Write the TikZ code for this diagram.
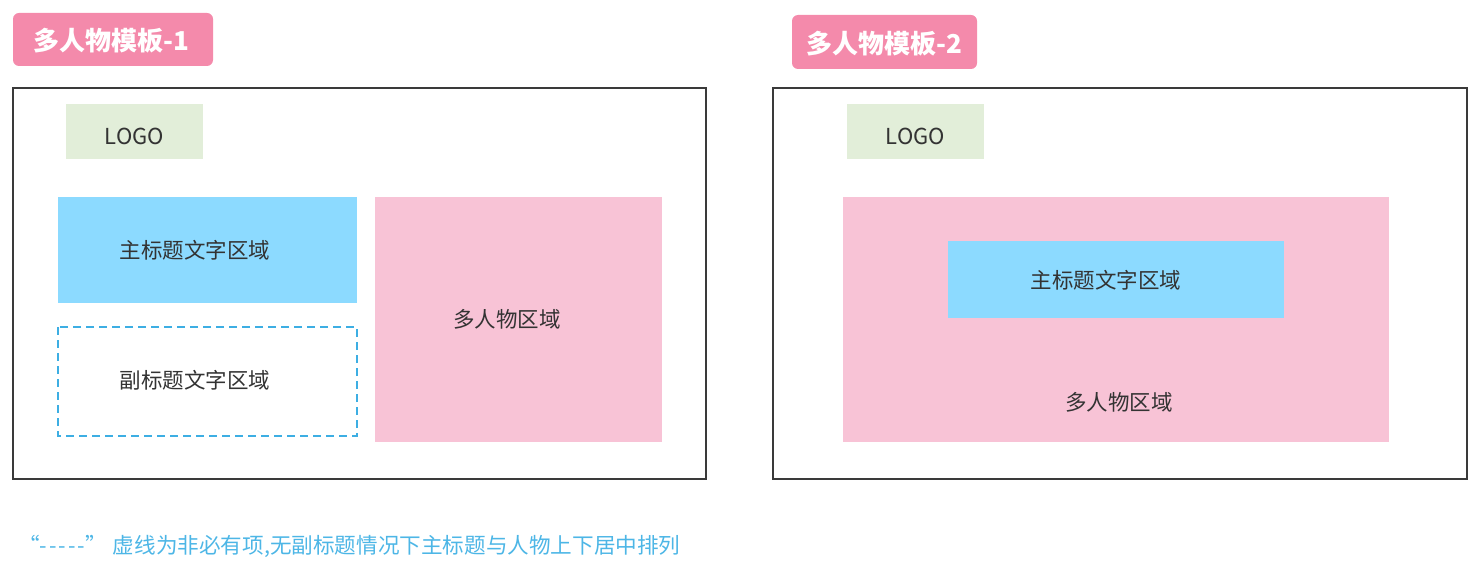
\documentclass[tikz,border=0pt]{standalone}
\usepackage{fontspec}
\setmainfont{Noto Sans CJK SC}[Ligatures=TeXOff]
\definecolor{badgepink}{HTML}{F48AAB}
\definecolor{areapink}{HTML}{F8C3D6}
\definecolor{titleblue}{HTML}{8CDAFF}
\definecolor{logogreen}{HTML}{E2EED9}
\definecolor{dashblue}{HTML}{3DAEE3}
\definecolor{noteblue}{HTML}{4DB6E6}
\definecolor{framegray}{HTML}{3A3A3A}
\definecolor{txt}{HTML}{333333}
\tikzset{
  badge/.style={fill=badgepink, rounded corners=6pt},
  badgetext/.style={text=white, font=\fontsize{26}{30}\selectfont\bfseries},
  frame/.style={draw=framegray, line width=1.6pt},
  area/.style={text=txt, font=\fontsize{21.5}{25}\selectfont},
  logotext/.style={text=txt, font=\fontsize{22}{26}\selectfont},
}
\begin{document}
\begin{tikzpicture}[x=1pt,y=-1pt]
\useasboundingbox (0,0) rectangle (1478,572);
% template 1
\fill[badge] (13,13) rectangle (213,66);
\node[badgetext] (b1) at (111,41) {多人物模板-1};
\draw[frame] (13,88) rectangle (706,479);
\fill[logogreen] (66,104) rectangle (203,159);
\node[logotext] (logo1) at (134.5,136) {LOGO};
\fill[titleblue] (58,197) rectangle (357,303);
\node[area] (main1) at (195,250) {主标题文字区域};
\draw[dashblue, line width=2pt, dash pattern=on 8pt off 5pt] (58,327) rectangle (357,436);
\node[area] (sub1) at (195,380) {副标题文字区域};
\fill[areapink] (375,197) rectangle (662,442);
\node[area] (multi1) at (507,319) {多人物区域};
% template 2
\fill[badge] (792,15) rectangle (977,69);
\node[badgetext] (b2) at (884,44) {多人物模板-2};
\draw[frame] (773,88) rectangle (1467,479);
\fill[logogreen] (847,104) rectangle (984,159);
\node[logotext] (logo2) at (915.5,136) {LOGO};
\fill[areapink] (843,197) rectangle (1389,442);
\fill[titleblue] (948,241) rectangle (1284,318);
\node[area] (main2) at (1106,280) {主标题文字区域};
\node[area] (multi2) at (1119,402) {多人物区域};
% note
\node[anchor=west, text=noteblue, font=\fontsize{21.6}{25}\selectfont, inner sep=0pt] (note) at (18,546) {“-\kern2pt-\kern2pt-\kern2pt-\kern2pt-”\hspace{6pt}虚线为非必有项,无副标题情况下主标题与人物上下居中排列};
\end{tikzpicture}
\end{document}
